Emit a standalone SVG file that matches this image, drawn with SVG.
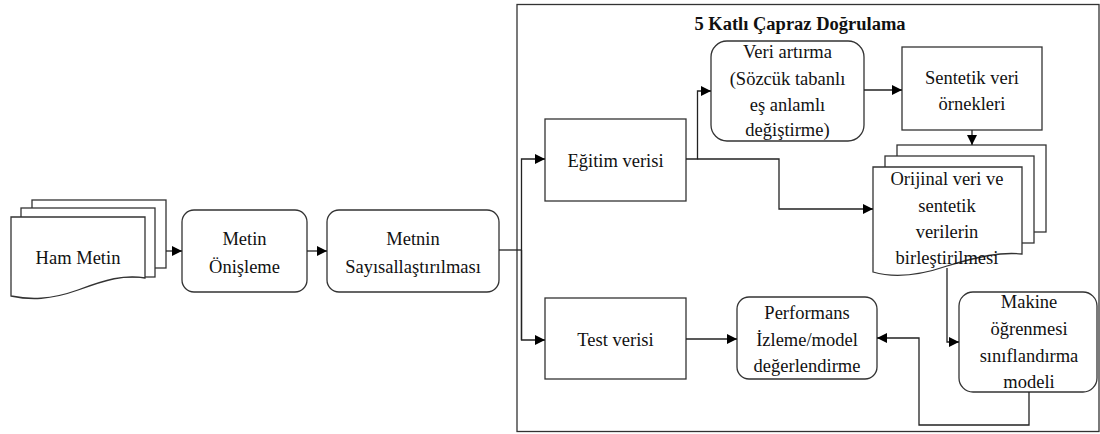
<svg xmlns="http://www.w3.org/2000/svg" width="1100" height="434" viewBox="0 0 1100 434">
<defs>
<marker id="ah" viewBox="0 0 10 10" refX="10" refY="5" markerWidth="10" markerHeight="10" markerUnits="userSpaceOnUse" orient="auto">
<path d="M0,0 L10,5 L0,10 Z" fill="#000"/>
</marker>
<style>
.box{fill:#fff;stroke:#333;stroke-width:1.3}
.t{font-family:"Liberation Serif","Times New Roman",serif;font-size:18.5px;fill:#111;text-anchor:middle}
.title{font-family:"Liberation Serif","Times New Roman",serif;font-size:18.5px;font-weight:bold;fill:#111;text-anchor:middle}
.c{fill:none;stroke:#222;stroke-width:1.3}
.ca{fill:none;stroke:#222;stroke-width:1.3;marker-end:url(#ah)}
</style>
</defs>
<rect width="1100" height="434" fill="#fff"/>

<g id="container">
<rect x="517" y="4.5" width="582" height="427" fill="none" stroke="#333" stroke-width="1.3"/>
<text class="title" x="800" y="30">5 Katlı Çapraz Doğrulama</text>
</g>

<g id="ham-metin">
<rect class="box" x="32" y="200" width="134" height="68"/>
<rect class="box" x="21" y="208" width="134" height="69"/>
<path class="box" d="M11,217 H145 V278 C125,274 105,280 78,290 C50,300 30,300 11,296 Z"/>
<text class="t" x="78" y="264">Ham Metin</text>
</g>

<g id="metin-onisleme">
<rect class="box" x="182" y="210" width="125" height="82" rx="12"/>
<text class="t" x="244.5" y="245">Metin</text>
<text class="t" x="244.5" y="273">Önişleme</text>
</g>

<g id="metnin-sayisallastirilmasi">
<rect class="box" x="327" y="210" width="172" height="82" rx="12"/>
<text class="t" x="413" y="245">Metnin</text>
<text class="t" x="413" y="273">Sayısallaştırılması</text>
</g>

<g id="egitim-verisi">
<rect class="box" x="545" y="119" width="141" height="82"/>
<text class="t" x="615.5" y="167">Eğitim verisi</text>
</g>

<g id="test-verisi">
<rect class="box" x="545" y="298" width="141" height="81"/>
<text class="t" x="615.5" y="346">Test verisi</text>
</g>

<g id="veri-artirma">
<rect class="box" x="711" y="41" width="153" height="100" rx="16"/>
<text class="t" x="787.5" y="58">Veri artırma</text>
<text class="t" x="787.5" y="85">(Sözcük tabanlı</text>
<text class="t" x="787.5" y="111">eş anlamlı</text>
<text class="t" x="787.5" y="136">değiştirme)</text>
</g>

<g id="sentetik-veri">
<rect class="box" x="902" y="47" width="140" height="83"/>
<text class="t" x="972" y="84">Sentetik veri</text>
<text class="t" x="972" y="110">örnekleri</text>
</g>

<g id="orijinal-veri">
<rect class="box" x="897" y="145" width="149" height="87"/>
<rect class="box" x="885" y="156" width="149" height="87"/>
<path class="box" d="M873,167 H1022 V254 C1000,252 980,256 947,266 C915,277 890,277 873,272 Z"/>
<text class="t" x="947" y="185">Orijinal veri ve</text>
<text class="t" x="947" y="212">sentetik</text>
<text class="t" x="947" y="238">verilerin</text>
<text class="t" x="947" y="264">birleştirilmesi</text>
</g>

<g id="performans">
<rect class="box" x="737" y="297" width="140" height="82" rx="12"/>
<text class="t" x="807" y="319">Performans</text>
<text class="t" x="807" y="346">İzleme/model</text>
<text class="t" x="807" y="372">değerlendirme</text>
</g>

<g id="makine-ogrenmesi">
<rect class="box" x="959" y="292" width="138" height="100" rx="14"/>
<text class="t" x="1029" y="308">Makine</text>
<text class="t" x="1029" y="335">öğrenmesi</text>
<text class="t" x="1029" y="362">sınıflandırma</text>
<text class="t" x="1029" y="388">modeli</text>
</g>

<g id="connectors">
<path class="ca" d="M166,251 H182"/>
<path class="ca" d="M307,251 H327"/>
<path class="c" d="M499,250 H521.5"/>
<path class="ca" d="M521.5,340 V159 H545"/>
<path class="ca" d="M521.5,250 V340 H545"/>
<path class="ca" d="M686,159 H697.5 V91 H711"/>
<path class="ca" d="M697.5,159 H779 V209 H873"/>
<path class="ca" d="M864,90 H902"/>
<path class="ca" d="M972,130 V145"/>
<path class="ca" d="M947,268 V342 H959"/>
<path class="ca" d="M686,339 H737"/>
<path class="ca" d="M1029,392 V425 H919 V338 H877"/>
</g>
</svg>
